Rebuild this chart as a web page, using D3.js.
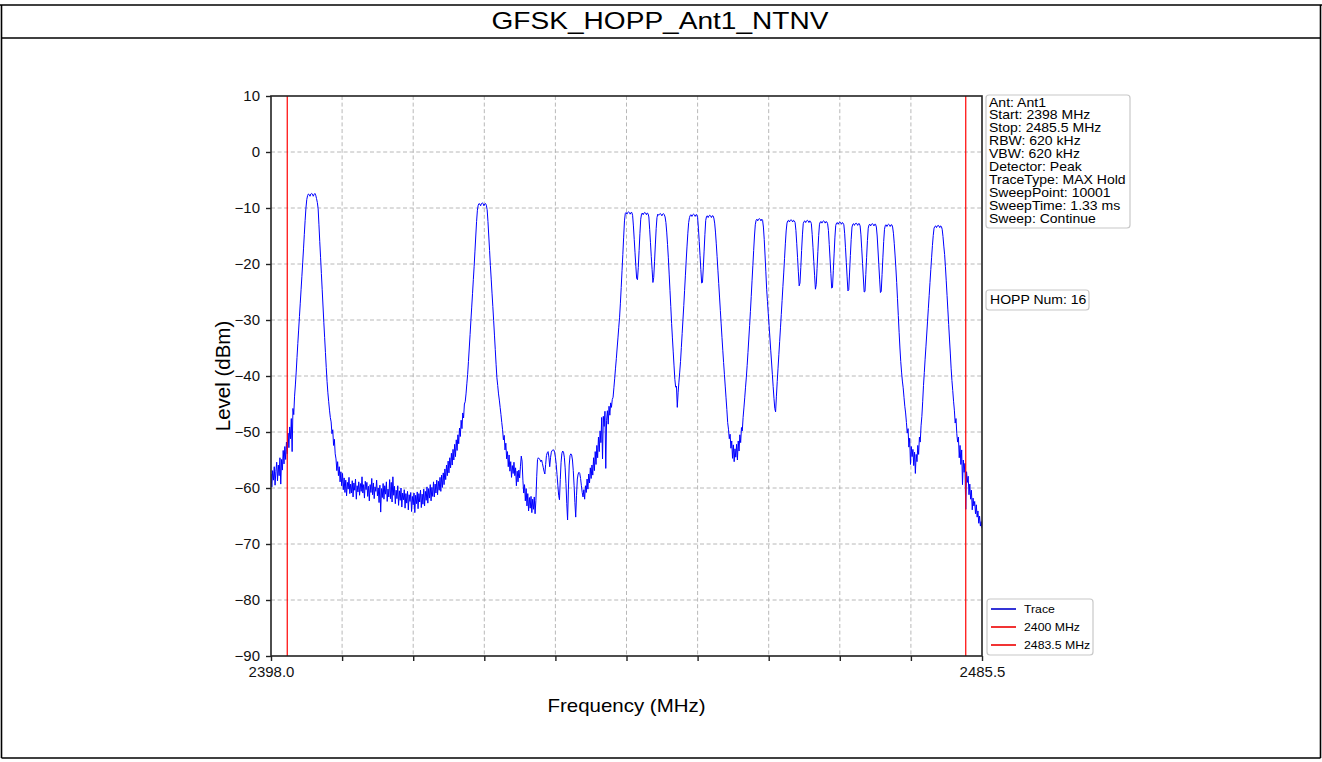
<!DOCTYPE html>
<html><head><meta charset="utf-8">
<script src="https://cdn.jsdelivr.net/npm/d3@7"></script>
<style>
body{margin:0;background:#fff;}
svg{display:block;font-family:"Liberation Sans",Arial,sans-serif;}
</style>
</head><body>
<svg id="chart" width="1322" height="762"></svg>
<script>
// ---------------- data ----------------
const chartTitle = "GFSK_HOPP_Ant1_NTNV";
const xAxisTitle = "Frequency (MHz)";
const yAxisTitle = "Level (dBm)";
const freqDomain = [2398.0, 2485.5];
const levelDomain = [-90, 10];
const xTickValues = [2398.0, 2406.75, 2415.5, 2424.25, 2433.0, 2441.75, 2450.5, 2459.25, 2468.0, 2476.75, 2485.5];
const xTickLabels = ["2398.0", "", "", "", "", "", "", "", "", "", "2485.5"];
const yTickValues = [-90, -80, -70, -60, -50, -40, -30, -20, -10, 0, 10];
const yTickLabels = ["\u221290", "\u221280", "\u221270", "\u221260", "\u221250", "\u221240", "\u221230", "\u221220", "\u221210", "0", "10"];
const markerFreqs = [2400, 2483.5];
const legendLabels = ["Trace", "2400 MHz", "2483.5 MHz"];
const infoLines = ["Ant: Ant1", "Start: 2398 MHz", "Stop: 2485.5 MHz", "RBW: 620 kHz", "VBW: 620 kHz",
  "Detector: Peak", "TraceType: MAX Hold", "SweepPoint: 10001", "SweepTime: 1.33 ms", "Sweep: Continue"];
const hoppLabel = "HOPP Num: 16";

// trace levels (dBm) sampled every 0.1 MHz, one array per frequency segment
const traceStep = 0.1;
const segmentStarts = [2398.0, 2406.0, 2422.0, 2430.0, 2440.0, 2450.0, 2460.0, 2470.0, 2480.0];
const levels2398 = [
 -57.5,-59.8,-56.9,-58.6,-56.2,-59.5,-57.0,-55.4,-58.7,-55.9,
 -57.8,-54.6,-59.3,-54.9,-56.8,-53.3,-55.7,-52.6,-54.9,-51.8,
 -53.9,-50.2,-52.8,-49.1,-51.2,-47.6,-53.5,-45.8,-46.9,-43.6,
 -41.6,-39.3,-36.7,-34.2,-31.8,-29.4,-27.0,-24.6,-22.2,-19.8,
 -17.3,-14.7,-12.2,-10.0,-8.5,-7.8,-7.5,-7.6,-7.9,-7.5,
 -7.4,-7.5,-7.9,-7.6,-7.4,-7.7,-8.3,-9.0,-10.1,-13.0,
 -16.0,-18.8,-21.7,-24.6,-27.5,-30.4,-33.1,-35.8,-38.5,-41.0,
 -43.0,-44.6,-46.1,-47.4,-48.2,-50.3,-49.6,-52.4,-51.3,-53.9];
const levels2406 = [
 -54.8,-56.9,-55.3,-57.8,-56.2,-58.9,-57.1,-59.6,-57.4,-60.3,
 -58.2,-60.8,-58.6,-61.4,-59.0,-60.2,-58.1,-61.0,-59.3,-60.9,
 -58.7,-61.6,-59.1,-60.4,-58.4,-62.0,-59.6,-60.7,-58.9,-61.3,
 -59.2,-60.6,-58.0,-60.9,-59.4,-61.8,-58.8,-60.3,-59.0,-61.5,
 -59.7,-62.3,-59.4,-60.8,-58.3,-61.2,-59.1,-61.9,-59.8,-60.6,
 -58.6,-61.4,-60.0,-62.6,-59.5,-64.3,-60.1,-61.7,-59.2,-62.0,
 -59.6,-61.1,-58.9,-62.4,-60.2,-61.6,-58.5,-61.9,-59.0,-62.5,
 -58.0,-61.3,-59.7,-62.8,-60.4,-61.9,-59.6,-63.1,-60.5,-62.2,
 -60.0,-63.4,-60.9,-62.1,-60.3,-63.6,-61.0,-62.7,-60.6,-63.9,
 -61.2,-62.4,-60.8,-64.2,-61.5,-63.0,-60.9,-64.4,-61.3,-62.8,
 -60.7,-63.7,-61.0,-62.5,-60.4,-63.5,-61.1,-62.9,-60.2,-63.2,
 -60.6,-62.2,-59.8,-62.7,-60.1,-61.8,-59.4,-62.3,-59.9,-61.5,
 -58.9,-61.6,-59.3,-60.9,-58.6,-61.2,-58.8,-60.4,-58.1,-60.6,
 -57.7,-59.9,-57.3,-59.4,-56.6,-58.5,-55.9,-57.8,-55.2,-57.3,
 -54.6,-56.4,-53.8,-55.9,-53.1,-55.0,-52.2,-54.4,-51.4,-53.3,
 -50.5,-52.1,-49.3,-50.8,-47.9,-49.4,-46.6,-47.5,-45.0,-44.6];
const levels2422 = [
 -43.2,-41.4,-39.7,-37.4,-35.0,-32.6,-30.1,-27.7,-25.3,-22.8,
 -20.4,-17.7,-15.0,-12.4,-10.4,-9.5,-9.2,-9.3,-9.6,-9.2,
 -9.1,-9.2,-9.6,-9.3,-9.2,-9.5,-10.3,-12.4,-15.0,-17.6,
 -20.3,-22.7,-25.2,-27.6,-30.1,-32.7,-35.3,-37.9,-40.3,-41.7,
 -43.2,-44.3,-45.6,-46.9,-48.3,-49.6,-51.4,-50.6,-53.2,-52.0,
 -54.8,-53.5,-56.2,-54.1,-57.0,-55.3,-58.1,-56.0,-57.4,-55.4,
 -57.8,-56.4,-59.6,-57.0,-58.9,-56.8,-58.2,-56.1,-54.3,-55.2,
 -58.6,-60.9,-59.4,-62.3,-60.1,-63.2,-61.0,-64.1,-61.7,-63.6];
const levels2430 = [
 -61.5,-64.4,-62.0,-63.8,-61.6,-64.6,-62.2,-58.0,-54.9,-54.6,
 -54.8,-54.9,-55.3,-55.0,-55.6,-56.3,-57.0,-57.5,-55.8,-54.2,
 -53.7,-53.5,-54.5,-56.2,-54.6,-53.6,-53.3,-53.2,-53.2,-53.6,
 -54.5,-55.8,-57.6,-59.5,-61.3,-62.1,-58.5,-55.4,-53.8,-53.4,
 -53.6,-54.5,-56.4,-59.2,-62.8,-65.7,-60.2,-55.9,-54.2,-53.9,
 -54.1,-55.0,-56.9,-59.5,-62.6,-65.2,-61.3,-58.4,-57.5,-57.2,
 -57.4,-58.3,-59.6,-60.8,-61.6,-60.3,-62.0,-59.6,-60.8,-58.4,
 -60.2,-57.5,-59.1,-56.4,-58.3,-55.9,-57.7,-54.6,-56.9,-53.5,
 -55.8,-52.4,-54.6,-50.9,-53.5,-49.8,-51.9,-47.4,-54.8,-47.2,
 -49.0,-46.3,-56.5,-47.9,-46.2,-48.6,-45.4,-47.0,-44.8,-45.6];
const levels2440 = [
 -44.2,-43.8,-42.1,-40.4,-38.6,-36.9,-35.0,-33.2,-31.3,-29.5,
 -27.0,-24.2,-21.2,-18.3,-15.2,-12.3,-11.0,-10.8,-11.1,-10.8,
 -10.7,-10.8,-11.1,-10.8,-10.8,-11.3,-13.2,-15.6,-18.0,-20.4,
 -22.6,-22.8,-20.6,-17.6,-14.6,-12.0,-11.1,-10.9,-11.2,-10.9,
 -10.8,-10.9,-11.2,-10.9,-11.0,-11.6,-13.8,-16.2,-18.7,-21.0,
 -23.3,-22.4,-19.6,-16.6,-13.7,-11.7,-11.1,-11.3,-11.1,-11.0,
 -11.1,-11.4,-11.1,-11.0,-11.2,-11.6,-12.6,-14.3,-16.5,-18.9,
 -21.8,-24.7,-27.6,-30.6,-33.2,-35.7,-38.2,-40.6,-42.0,-41.8,
 -45.6,-43.0,-41.1,-39.3,-37.4,-34.9,-32.4,-29.9,-27.4,-24.7,
 -22.0,-19.3,-16.8,-14.5,-12.6,-11.7,-11.3,-11.2,-11.5,-11.2];
const levels2450 = [
 -11.1,-11.2,-11.5,-11.2,-11.2,-11.7,-13.6,-16.0,-18.5,-21.0,
 -23.4,-23.3,-20.7,-17.7,-14.7,-12.2,-11.5,-11.4,-11.7,-11.4,
 -11.3,-11.4,-11.7,-11.4,-11.4,-11.8,-12.7,-14.3,-16.4,-18.7,
 -21.1,-23.5,-25.9,-28.3,-30.7,-33.1,-35.4,-37.6,-39.7,-41.8,
 -43.9,-46.0,-48.3,-49.5,-51.2,-50.4,-52.9,-51.6,-54.7,-52.3,
 -55.3,-53.0,-54.5,-52.2,-55.0,-51.6,-53.4,-50.5,-51.9,-49.2,
 -49.8,-47.4,-45.7,-43.9,-42.0,-40.2,-38.1,-35.8,-33.4,-31.0,
 -28.5,-25.8,-23.0,-20.3,-17.6,-15.0,-13.0,-12.2,-12.0,-12.3,
 -12.0,-11.9,-12.0,-12.3,-12.0,-12.2,-13.4,-15.6,-18.4,-21.4,
 -24.5,-26.7,-28.9,-31.0,-33.2,-35.4,-37.5,-39.7,-41.9,-44.0];
const levels2460 = [
 -45.8,-46.4,-43.6,-41.0,-38.6,-36.2,-33.8,-31.4,-29.0,-26.5,
 -24.0,-21.6,-19.0,-16.4,-14.1,-12.7,-12.3,-12.2,-12.5,-12.2,
 -12.1,-12.2,-12.5,-12.2,-12.3,-12.6,-14.0,-16.3,-18.8,-21.4,
 -23.9,-23.4,-20.6,-17.6,-14.8,-12.8,-12.4,-12.3,-12.6,-12.3,
 -12.2,-12.3,-12.6,-12.3,-12.4,-12.8,-14.7,-17.1,-19.6,-22.1,
 -24.5,-23.7,-20.8,-17.8,-14.9,-12.9,-12.5,-12.4,-12.7,-12.4,
 -12.3,-12.4,-12.7,-12.4,-12.5,-12.8,-14.0,-16.5,-19.1,-21.7,
 -24.3,-24.2,-21.2,-18.2,-15.2,-13.1,-12.7,-12.6,-12.9,-12.6,
 -12.5,-12.6,-12.9,-12.6,-12.7,-13.0,-14.6,-17.1,-19.7,-22.3,
 -24.8,-24.6,-21.6,-18.5,-15.6,-13.4,-12.9,-12.8,-13.1,-12.8];
const levels2470 = [
 -12.7,-12.8,-13.1,-12.8,-12.8,-13.2,-14.8,-17.3,-19.9,-22.5,
 -25.0,-24.9,-21.9,-18.8,-15.8,-13.6,-13.0,-12.9,-13.2,-12.9,
 -12.8,-12.9,-13.2,-12.9,-12.9,-13.4,-15.0,-17.5,-20.1,-22.7,
 -25.1,-24.9,-21.9,-18.9,-16.0,-13.8,-13.1,-13.0,-13.3,-13.0,
 -12.9,-13.0,-13.3,-13.0,-13.0,-13.4,-14.5,-16.3,-18.4,-20.7,
 -23.3,-26.2,-29.2,-32.2,-35.0,-37.4,-39.3,-40.9,-42.1,-43.8,
 -45.4,-46.6,-48.3,-50.2,-49.4,-52.7,-51.1,-55.8,-52.6,-54.4,
 -53.1,-56.0,-53.6,-57.4,-54.0,-55.3,-52.4,-54.0,-50.9,-51.8,
 -48.9,-47.2,-44.6,-41.7,-39.4,-37.0,-34.8,-32.5,-30.2,-27.9,
 -25.6,-23.3,-21.0,-18.8,-16.7,-14.9,-13.6,-13.3,-13.2,-13.5];
const levels2480 = [
 -13.2,-13.1,-13.2,-13.5,-13.2,-13.3,-13.8,-15.1,-16.8,-18.3,
 -20.5,-23.0,-25.6,-28.2,-30.8,-33.4,-35.9,-38.6,-40.8,-42.6,
 -44.5,-46.1,-48.4,-47.6,-50.3,-51.8,-50.9,-54.6,-52.4,-55.8,
 -53.2,-59.4,-55.0,-57.2,-55.6,-63.8,-57.1,-59.0,-57.9,-61.2,
 -59.3,-62.0,-60.4,-63.9,-61.8,-63.2,-62.4,-64.6,-63.0,-65.2,
 -64.1,-66.3,-65.0,-66.8,-66.0,-67.2];
const levelSegments = [levels2398, levels2406, levels2422, levels2430, levels2440,
  levels2450, levels2460, levels2470, levels2480];

// ---------------- drawing ----------------
const SX = 1.17;      // horizontal text stretch seen in the reference
const SXT = 1.07;     // tick label stretch
const svg = d3.select("#chart");
const W = 1322, H = 762;
const plot = {left: 271, right: 982, top: 96, bottom: 656};

const x = d3.scaleLinear().domain(freqDomain).range([plot.left, plot.right]);
const y = d3.scaleLinear().domain(levelDomain).range([plot.bottom, plot.top]);

function addText(parent, px, py, str, size, anchor, rotate, sx) {
  const s = sx || SX;
  return parent.append("text")
    .attr("transform", `translate(${px},${py})` + (rotate ? ` rotate(${rotate})` : ` scale(${s},1)`))
    .attr("font-size", size)
    .attr("text-anchor", anchor || "start")
    .attr("fill", "#000")
    .text(str);
}

// outer table frame
const frame = svg.append("g").attr("stroke", "#000").attr("stroke-width", 1.6).attr("fill", "none");
frame.append("line").attr("x1", 0).attr("x2", W).attr("y1", 5).attr("y2", 5);
frame.append("line").attr("x1", 1.5).attr("x2", W - 1).attr("y1", 38).attr("y2", 38);
frame.append("line").attr("x1", 1.5).attr("x2", 1.5).attr("y1", 5).attr("y2", 758);
frame.append("line").attr("x1", W - 1.5).attr("x2", W - 1.5).attr("y1", 5).attr("y2", 758);
frame.append("line").attr("x1", 1.5).attr("x2", W - 1.5).attr("y1", 758).attr("y2", 758);

// title
addText(svg, 660, 29, chartTitle, 24, "middle");

// grid
const grid = svg.append("g").attr("stroke", "#b0b0b0").attr("stroke-width", 0.9).attr("stroke-dasharray", "4,2.6");
grid.selectAll("line.gx").data(xTickValues.slice(1, -1)).join("line")
  .attr("x1", d => x(d)).attr("x2", d => x(d)).attr("y1", plot.top).attr("y2", plot.bottom);
grid.selectAll("line.gy").data(yTickValues.slice(1, -1)).join("line")
  .attr("x1", plot.left).attr("x2", plot.right).attr("y1", d => y(d)).attr("y2", d => y(d));

// trace
const tracePoints = [];
levelSegments.forEach((seg, s) => {
  seg.forEach((v, i) => tracePoints.push([segmentStarts[s] + i * traceStep, v]));
});
svg.append("defs").append("clipPath").attr("id", "clip")
  .append("rect").attr("x", plot.left).attr("y", plot.top)
  .attr("width", plot.right - plot.left).attr("height", plot.bottom - plot.top);
const line = d3.line().x(d => x(d[0])).y(d => y(d[1]));
svg.append("path").datum(tracePoints)
  .attr("clip-path", "url(#clip)")
  .attr("fill", "none").attr("stroke", "#0000ff").attr("stroke-width", 1.0)
  .attr("stroke-linejoin", "round")
  .attr("d", line);

// marker lines
svg.selectAll("line.marker").data(markerFreqs).join("line")
  .attr("class", "marker")
  .attr("x1", d => x(d)).attr("x2", d => x(d))
  .attr("y1", plot.top).attr("y2", plot.bottom)
  .attr("stroke", "#ff0000").attr("stroke-width", 1.2);

// axes
const yAxis = d3.axisLeft(y).tickValues(yTickValues).tickFormat((d, i) => yTickLabels[i]).tickSize(5).tickPadding(6);
const xAxis = d3.axisBottom(x).tickValues(xTickValues).tickFormat((d, i) => xTickLabels[i]).tickSize(5).tickPadding(6);
const gy = svg.append("g").attr("transform", `translate(${plot.left},0)`).call(yAxis);
const gx = svg.append("g").attr("transform", `translate(0,${plot.bottom})`).call(xAxis);
[gx, gy].forEach(g => {
  g.select(".domain").remove();
  g.selectAll(".tick line").attr("stroke", "#222").attr("stroke-width", 1.4);
  g.selectAll(".tick text").attr("font-size", 14).attr("fill", "#111")
    .attr("font-family", "'Liberation Sans', Arial, sans-serif");
});
gy.selectAll(".tick text").attr("x", -11 / SXT).attr("transform", `scale(${SXT},1)`);
gx.selectAll(".tick text").attr("transform", `scale(${SXT},1)`);

// spines
svg.append("rect").attr("x", plot.left).attr("y", plot.top)
  .attr("width", plot.right - plot.left).attr("height", plot.bottom - plot.top)
  .attr("fill", "none").attr("stroke", "#222").attr("stroke-width", 1.6);

// axis titles
addText(svg, (plot.left + plot.right) / 2, 712, xAxisTitle, 17.5, "middle");
addText(svg, 230, (plot.top + plot.bottom) / 2, yAxisTitle, 20.5, "middle", -90);

// info box
const info = svg.append("g");
info.append("rect").attr("x", 986).attr("y", 95).attr("width", 144).attr("height", 133)
  .attr("rx", 3).attr("fill", "#fff").attr("stroke", "#c8c8c8").attr("stroke-width", 1.2);
infoLines.forEach((s, i) => addText(info, 989, 106.5 + i * 12.9, s, 12, "start"));

// HOPP box
const hopp = svg.append("g");
hopp.append("rect").attr("x", 986).attr("y", 290).attr("width", 103).attr("height", 20)
  .attr("rx", 3).attr("fill", "#fff").attr("stroke", "#c8c8c8").attr("stroke-width", 1.2);
addText(hopp, 990, 304, hoppLabel, 12, "start");

// legend
const legendColors = ["#0000cc", "#ee0000", "#ee0000"];
const lg = svg.append("g");
lg.append("rect").attr("x", 987).attr("y", 599).attr("width", 106).attr("height", 56)
  .attr("rx", 3).attr("fill", "#fff").attr("stroke", "#c8c8c8").attr("stroke-width", 1.2);
legendLabels.forEach((s, i) => {
  const ly = 609 + i * 18;
  lg.append("line").attr("x1", 991).attr("x2", 1016).attr("y1", ly).attr("y2", ly)
    .attr("stroke", legendColors[i]).attr("stroke-width", 1.6);
  addText(lg, 1024, ly + 4, s, 10.5, "start");
});
</script>
</body></html>
